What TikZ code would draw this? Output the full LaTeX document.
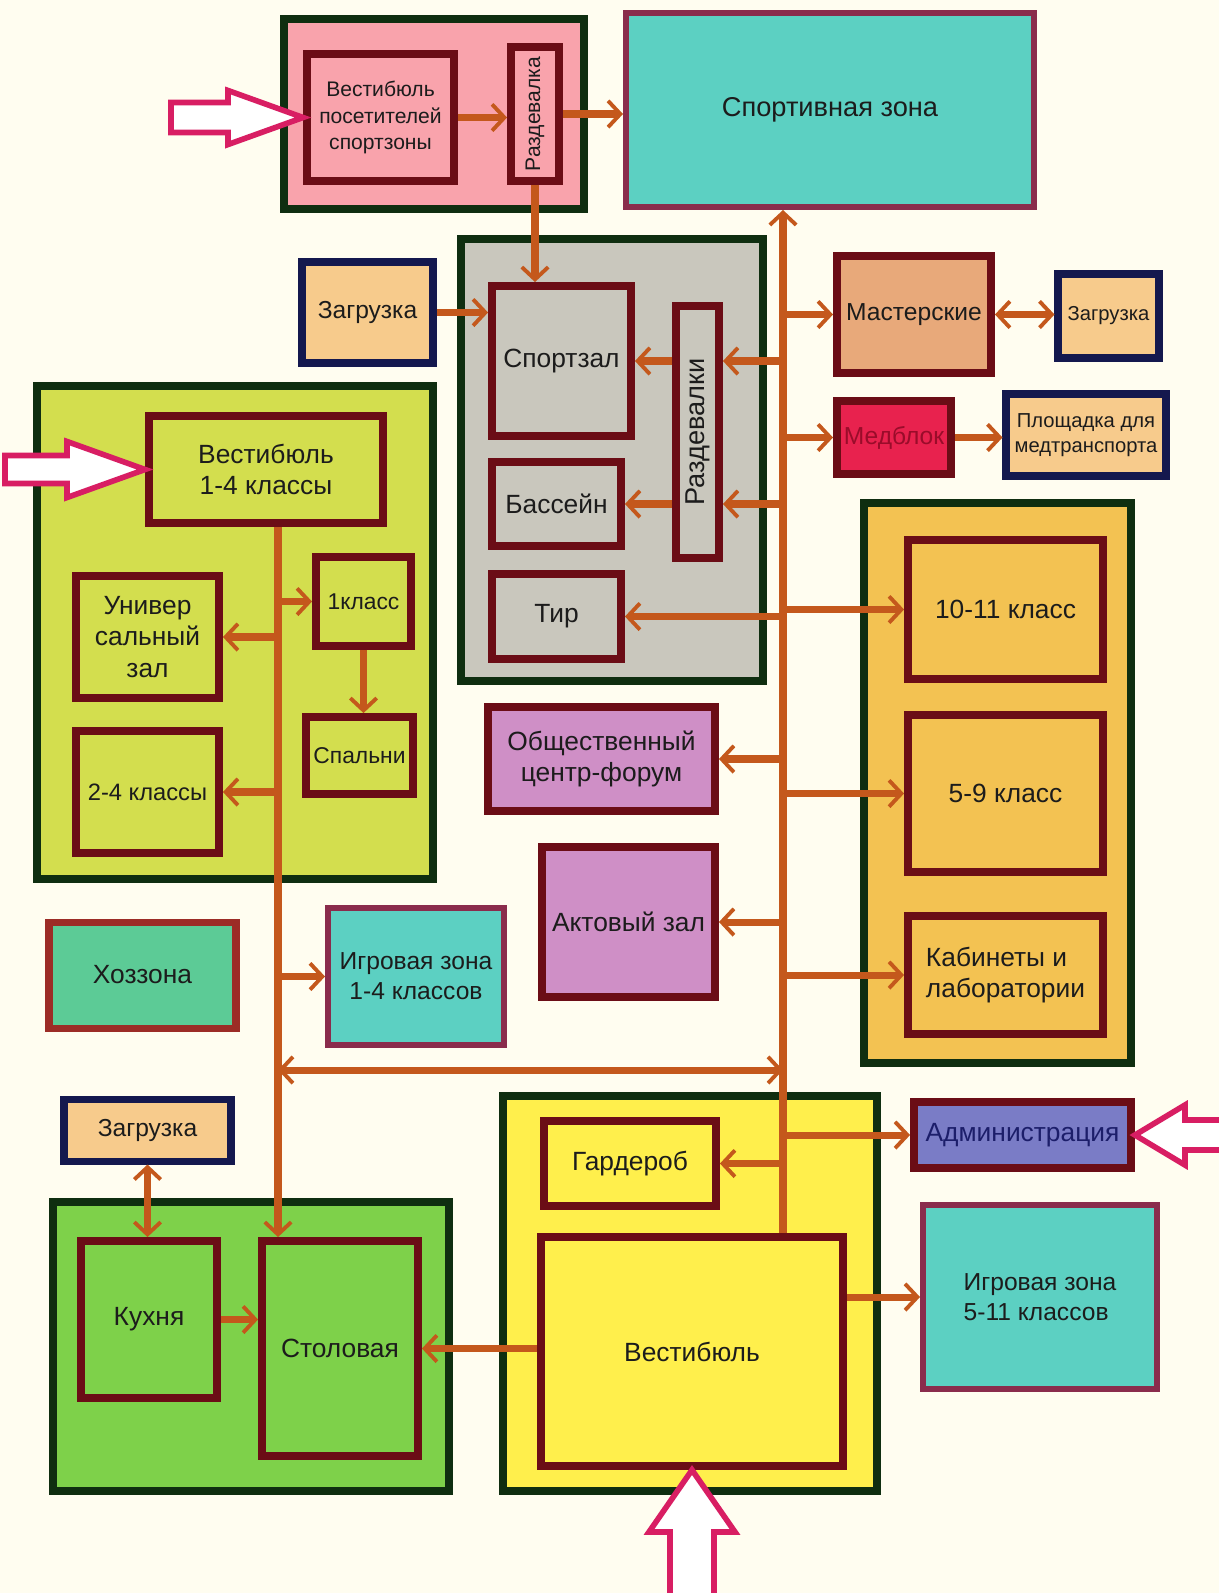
\documentclass[tikz,border=0pt]{standalone}
\usepackage{fontspec}
\setmainfont{Liberation Sans}
\usepackage{xcolor}
\usepackage{graphicx}
\usetikzlibrary{positioning,arrows.meta}

\definecolor{paper}{HTML}{FFFDF0}
\definecolor{zoneline}{HTML}{0F2E10}
\definecolor{roomline}{HTML}{6B0D16}
\definecolor{navyline}{HTML}{14184E}
\definecolor{playline}{HTML}{8A2C4C}
\definecolor{brickline}{HTML}{9C2C26}
\definecolor{pinkzone}{HTML}{F9A3AC}
\definecolor{greyzone}{HTML}{C9C7BD}
\definecolor{limezone}{HTML}{D3DE4E}
\definecolor{orangezone}{HTML}{F3C252}
\definecolor{greenzone}{HTML}{7ED14A}
\definecolor{yellowzone}{HTML}{FFEF4C}
\definecolor{tealroom}{HTML}{5CD0C2}
\definecolor{loadfill}{HTML}{F7CB8C}
\definecolor{tanfill}{HTML}{E8A97A}
\definecolor{medfill}{HTML}{E8224E}
\definecolor{medtext}{HTML}{9A0C2A}
\definecolor{orchid}{HTML}{CF8FC6}
\definecolor{mint}{HTML}{5CCB96}
\definecolor{lavender}{HTML}{7A7CC6}
\definecolor{adminink}{HTML}{1C1E6A}
\definecolor{flowbrown}{HTML}{C4581C}
\definecolor{entryred}{HTML}{D81E63}
\definecolor{ink}{HTML}{1C1C1C}

\begin{document}
\begin{tikzpicture}[x=0.02cm, y=-0.02cm,
  font=\fontsize{15}{18}\selectfont, text=ink,
  >={Straight Barb[length=7pt,width=15pt,line width=2.2pt]},
  dims/.style 2 args={minimum width=#1*0.02cm, minimum height=#2*0.02cm},
  zone/.style={draw=zoneline, line width=5pt, inner sep=0pt},
  room/.style={draw=roomline, line width=4.5pt, inner sep=0pt, align=center},
  loadbox/.style={draw=navyline, line width=4pt, inner sep=0pt, align=center, fill=loadfill},
  playbox/.style={draw=playline, line width=3.4pt, inner sep=0pt, align=center, fill=tealroom},
  link/.style={draw=flowbrown, line width=4pt},
  entry/.style={draw=entryred, line width=3.2pt, fill=white}]
\path[use as bounding box, fill=paper] (0,0) rectangle (1219,1593);

% zones
\node[zone, fill=pinkzone, dims={300}{190}] (visgrp) at (434,114) {};
\node[zone, fill=greyzone, dims={302}{442}] (gymgrp) at (612,460) {};
\node[zone, fill=limezone, dims={396}{493}] (jungrp) at (235,632.5) {};
\node[zone, fill=orangezone, dims={267}{560}] (sengrp) at (997.5,783) {};
\node[zone, fill=greenzone, dims={396}{289}] (dinegrp) at (251,1346.5) {};
\node[zone, fill=yellowzone, dims={374}{395}] (entgrp) at (690,1293.5) {};

% sport part
\node[room, fill=pinkzone, font=\fontsize{12}{15}\selectfont, dims={147}{127}] (visvest) at (380.5,117.5) {Вестибюль\\посетителей\\спортзоны};
\node[room, fill=pinkzone, dims={48}{134}] (razd) at (535,114) {\rotatebox{90}{\fontsize{12}{14}\selectfont Раздевалка}};
\node[playbox, font=\fontsize{15.5}{18}\selectfont, dims={408}{194}] (sport) at (830,110) {Спортивная зона};
\node[loadbox, font=\fontsize{14}{17}\selectfont, dims={131}{101}] (loadgym) at (367.5,312.5) {Загрузка};
\node[room, fill=greyzone, dims={139}{150}] (gym) at (561.5,361) {Спортзал};
\node[room, fill=greyzone, dims={129}{84}] (pool) at (556.5,504) {Бассейн};
\node[room, fill=greyzone, dims={129}{85}] (tir) at (556.5,616.5) {Тир};
\node[room, fill=greyzone, dims={43}{252}] (lockers) at (697.5,432) {\rotatebox{90}{\fontsize{15.5}{18}\selectfont Раздевалки}};

% right column
\node[room, fill=tanfill, font=\fontsize{14}{17}\selectfont, dims={154}{117}] (workshop) at (914,314.5) {Мастерские};
\node[loadbox, font=\fontsize{11.5}{14}\selectfont, dims={101}{84}] (loadws) at (1108.5,316) {Загрузка};
\node[room, fill=medfill, text=medtext, font=\fontsize{14}{17}\selectfont, dims={114}{73}] (medblock) at (894,437.5) {Медблок};
\node[loadbox, font=\fontsize{11.5}{14}\selectfont, dims={160}{82}] (medpad) at (1086,435) {Площадка для\\медтранспорта};
\node[room, fill=orangezone, dims={195}{139}] (cls1011) at (1005.5,609.5) {10-11 класс};
\node[room, fill=orangezone, dims={195}{157}] (cls59) at (1005.5,793.5) {5-9 класс};
\node[room, fill=orangezone, align=left, dims={195}{118}] (labs) at (1005.5,975) {Кабинеты и\\лаборатории};
\node[room, fill=orchid, dims={227}{104}] (forum) at (601.5,759) {Общественный\\центр-форум};
\node[room, fill=orchid, dims={173}{150}] (assembly) at (628.5,922) {Актовый зал};

% junior school
\node[room, fill=limezone, dims={234}{107}] (vest14) at (266,469.5) {Вестибюль\\1-4 классы};
\node[room, fill=limezone, dims={143}{122}] (unihall) at (147.5,637) {Универ\\сальный\\зал};
\node[room, fill=limezone, font=\fontsize{13.5}{16}\selectfont, dims={143}{122}] (cls24) at (147.5,792) {2-4 классы};
\node[room, fill=limezone, font=\fontsize{13}{16}\selectfont, dims={95}{89}] (cls1) at (363.5,601.5) {1класс};
\node[room, fill=limezone, font=\fontsize{13}{16}\selectfont, dims={107}{77}] (sleep) at (359.5,755.5) {Спальни};
\node[room, draw=brickline, line width=4pt, fill=mint, dims={187}{106}] (utility) at (142.5,975) {Хоззона};
\node[playbox, font=\fontsize{14}{17}\selectfont, dims={176}{137}] (play14) at (416,976.5) {Игровая зона\\1-4 классов};

% dining and entrance
\node[loadbox, font=\fontsize{14}{17}\selectfont, dims={167}{62}] (loaddine) at (147.5,1130) {Загрузка};
\node[room, fill=greenzone, dims={136}{157}] (kitchen) at (149,1319.5) {Кухня};
\node[room, fill=greenzone, dims={156}{215}] (dining) at (340,1348.5) {Столовая};
\node[room, fill=yellowzone, dims={172}{85}] (cloak) at (630,1163.5) {Гардероб};
\node[room, fill=yellowzone, dims={302}{229}] (hall) at (692,1351.5) {Вестибюль};
\node[room, fill=lavender, text=adminink, dims={217}{66}] (admin) at (1022.5,1135) {Администрация};
\node[playbox, align=left, font=\fontsize{14}{17}\selectfont, dims={234}{184}] (play511) at (1040,1297) {Игровая зона\\5-11 классов};

\coordinate (trunk) at (783,0);
\coordinate (lbus) at (278,0);
\coordinate (cross) at (0,1070);

% connections
\draw[link,->] (visvest.east) -- (visvest.east -| razd.west);
\draw[link,->] (razd.east) -- (razd.east -| sport.west);
\draw[link,->] (razd.south) -- (razd.south |- gym.north);
\draw[link,->] (loadgym.east) -- (loadgym.east -| gym.west);
\draw[link,->] (hall.north -| trunk) -- (sport.south -| trunk);
\draw[link,->] (trunk |- gym) -- (lockers.east |- gym);
\draw[link,->] (lockers.west |- gym) -- (gym.east);
\draw[link,->] (trunk |- pool) -- (lockers.east |- pool);
\draw[link,->] (lockers.west |- pool) -- (pool.east);
\draw[link,->] (trunk |- tir) -- (tir.east);
\draw[link,->] (trunk |- workshop) -- (workshop.west);
\draw[link,<->] (workshop.east) -- (workshop.east -| loadws.west);
\draw[link,->] (trunk |- medblock) -- (medblock.west);
\draw[link,->] (medblock.east) -- (medblock.east -| medpad.west);
\draw[link,->] (trunk |- cls1011) -- (cls1011.west);
\draw[link,->] (trunk |- cls59) -- (cls59.west);
\draw[link,->] (trunk |- labs) -- (labs.west);
\draw[link,->] (trunk |- forum) -- (forum.east);
\draw[link,->] (trunk |- assembly) -- (assembly.east);
\draw[link,->] (trunk |- cloak) -- (cloak.east);
\draw[link,->] (trunk |- admin) -- (admin.west);
\draw[link,->] (hall.east |- play511) -- (play511.west);
\draw[link,->] (hall.west |- dining) -- (dining.east);
\draw[link,->] (kitchen.east) -- (kitchen.east -| dining.west);
\draw[link,<->] (loaddine.south) -- (loaddine.south |- kitchen.north);
\draw[link,->] (vest14.south -| lbus) -- (dining.north -| lbus);
\draw[link,->] (lbus |- cls1) -- (cls1.west);
\draw[link,->] (lbus |- unihall) -- (unihall.east);
\draw[link,->] (lbus |- cls24) -- (cls24.east);
\draw[link,->] (lbus |- play14) -- (play14.west);
\draw[link,->] (cls1.south) -- (cls1.south |- sleep.north);
\draw[link,<->] (lbus |- cross) -- (trunk |- cross);

% entrances
\draw[entry] (visvest.west) -- ++(-75,-27) -- ++(0,12) -- ++(-57,0) -- ++(0,30) -- ++(57,0) -- ++(0,12) -- cycle;
\draw[entry] (vest14.west) -- ++(-78,-28) -- ++(0,14) -- ++(-62,0) -- ++(0,28) -- ++(62,0) -- ++(0,14) -- cycle;
\draw[entry] (admin.east) -- ++(50,-30) -- ++(0,15) -- ++(50,0) -- ++(0,30) -- ++(-50,0) -- ++(0,15) -- cycle;
\draw[entry] (hall.south) -- ++(43,62) -- ++(-21,0) -- ++(0,90) -- ++(-44,0) -- ++(0,-90) -- ++(-21,0) -- cycle;
\end{tikzpicture}
\end{document}
